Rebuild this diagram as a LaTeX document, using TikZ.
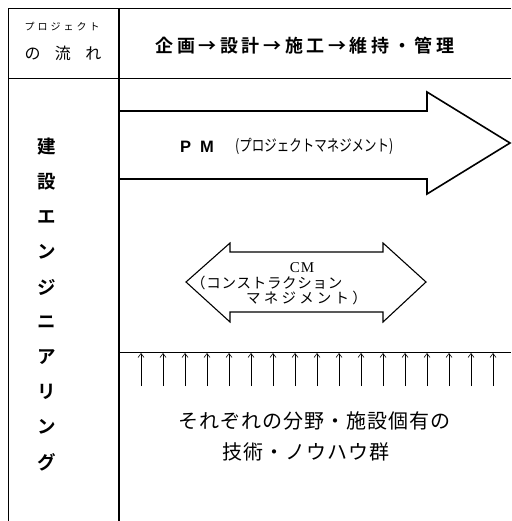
\documentclass[tikz,border=0pt]{standalone}
\usepackage{fontspec}
\newfontfamily\jp{Noto Sans CJK JP}
\newfontfamily\jpb{Noto Sans CJK JP Bold}
\newfontfamily\lsans{Liberation Sans}
\newfontfamily\lserif{Liberation Serif}
\usetikzlibrary{arrows.meta}
\begin{document}
\begin{tikzpicture}[x=1pt,y=-1pt,
  frameline/.style={line width=0.9pt},
  bigarrow/.style={line width=1.6pt,line join=miter},
  cmarrow/.style={line width=1.1pt,line join=miter},
  uparrow/.style={line width=0.7pt,-{Straight Barb[length=4pt,width=6pt,line width=0.6pt]}},
  txt/.style={inner sep=0pt,anchor=center}]
\useasboundingbox (0,0) rectangle (511,521);
% frame
\coordinate (fl) at (8,521);
\coordinate (ftl) at (8,8);
\coordinate (ftr) at (511,8);
\coordinate (hl) at (8,78);
\coordinate (hr) at (511,78);
\coordinate (dt) at (119,8);
\coordinate (db) at (119,521);
\draw[frameline] (fl) -- (ftl) -- (ftr);
\draw[frameline] (hl) -- (hr);
\draw[line width=1.2pt] (dt) -- (db);
% header
\node[txt] (h1) at (62,27) {\jp\fontsize{10}{10}\selectfont\addfontfeatures{LetterSpace=30}プロジェクト};
\node[txt] (h2) at (63,53) {\jp\fontsize{16}{16}\selectfont の\hspace{14.5pt}流\hspace{14.5pt}れ};
\node[txt] (h3) at (305,46) {\jpb\fontsize{18}{18}\selectfont\addfontfeatures{LetterSpace=20}企画→設計→施工→維持・管理};
% left column
\foreach \c [count=\i] in {建,設,エ,ン,ジ,ニ,ア,リ,ン,グ}{
  \node[txt] (v\i) at (47,112+35*\i) {\jpb\fontsize{18.5}{19}\selectfont \c};
}
% PM arrow
\draw[bigarrow] (119,111) -- (427,111) -- (427,92) -- (510,143) -- (427,194) -- (427,179) -- (119,179);
\node[txt] (pm) at (197,147) {\lsans\bfseries\fontsize{16.5}{17}\selectfont P\hspace{9pt}M};
\node[txt,anchor=west] (pmj) at (235,146) {\scalebox{0.78}[1]{\jp\fontsize{16}{16}\selectfont (プロジェクトマネジメント)}};
% CM arrow
\draw[cmarrow] (186,282) -- (230,243) -- (230,252) -- (383,252) -- (383,243) -- (426,282) -- (383,322) -- (383,312) -- (230,312) -- (230,322) -- cycle;
\node[txt] (cm) at (302,268) {\lserif\fontsize{15}{15}\selectfont C\hspace{1pt}M};
\node[txt,anchor=west] (cm1) at (191,283) {\jp\fontsize{14.5}{15}\selectfont\addfontfeatures{LetterSpace=5}（コンストラクション};
\node[txt,anchor=west] (cm2) at (246,298) {\jp\fontsize{14.5}{15}\selectfont\addfontfeatures{LetterSpace=22}マネジメント）};
% base line and small arrows
\coordinate (bl) at (119,352);
\coordinate (br) at (511,352);
\draw[line width=0.9pt] (bl) -- (br);
\foreach \i in {0,...,16}{
  \coordinate (a\i) at (141+22*\i,386);
  \coordinate (b\i) at (141+22*\i,353);
  \draw[uparrow] (a\i) -- (b\i);
}
% bottom text
\node[txt] (t1) at (314,421) {\jp\fontsize{20}{20}\selectfont\addfontfeatures{LetterSpace=5}それぞれの分野・施設個有の};
\node[txt] (t2) at (306,452) {\jp\fontsize{20}{20}\selectfont\addfontfeatures{LetterSpace=5}技術・ノウハウ群};
\end{tikzpicture}
\end{document}
